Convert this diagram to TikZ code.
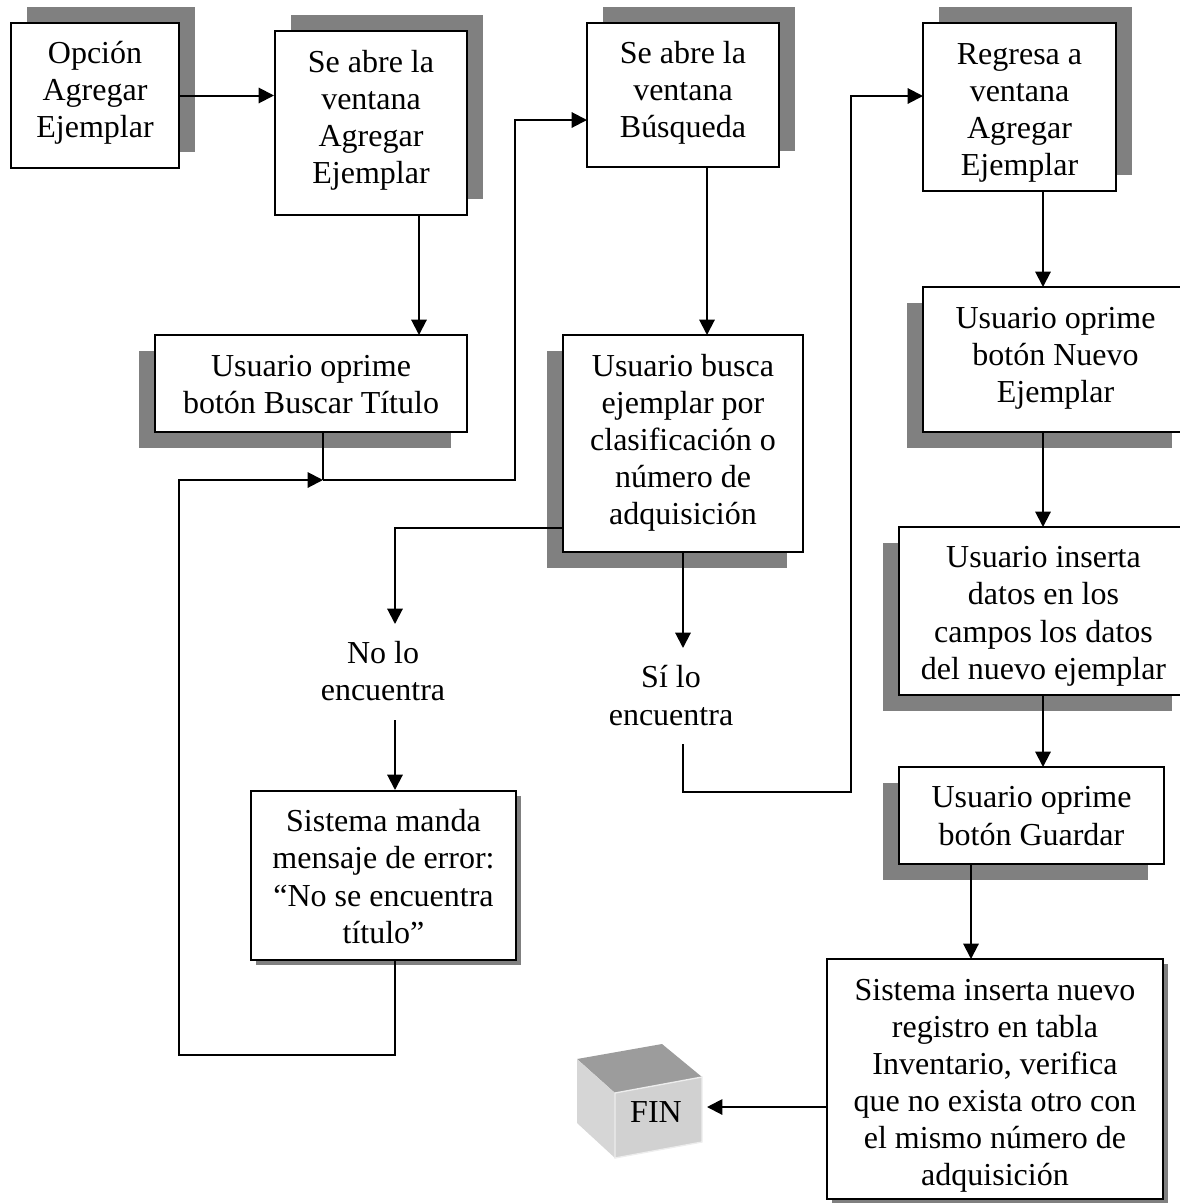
\documentclass[tikz,border=0pt]{standalone}
\usepackage{fontspec}
\setmainfont{Liberation Serif}
\usetikzlibrary{arrows.meta,shadows}
\definecolor{shadowgray}{RGB}{128,128,128}
\def\u{0.75pt}
\newcommand{\padtop}{\rule{0pt}{30pt}}
\newcommand{\padbot}[1]{\rule[\dimexpr#1pt-24.75pt\relax]{0pt}{\dimexpr24.75pt-#1pt\relax}}
\tikzset{
  box/.style={draw,line width=1.5pt,fill=white,align=center,inner sep=0pt,font=\fontsize{24}{27.8}\selectfont},
  shadowup/.style={copy shadow={shadow xshift=12pt,shadow yshift=12pt,draw=none,fill=shadowgray}},
  shadowdown/.style={copy shadow={shadow xshift=-12pt,shadow yshift=-12pt,draw=none,fill=shadowgray}},
  shadowthin/.style={copy shadow={shadow xshift=3.75pt,shadow yshift=-3.75pt,draw=none,fill=shadowgray}},
  lbl/.style={align=center,inner sep=0pt,font=\fontsize{24}{27.8}\selectfont},
  link/.style={line width=1.5pt},
  arrow/.style={line width=1.5pt,-{Triangle[length=11.5pt,width=11.5pt]}},
}
\begin{document}
\begin{tikzpicture}[x=0.75pt,y=-0.75pt]
\useasboundingbox (0,0) rectangle (1180,1203);
\node[box,shadowup,minimum width=168*\u,minimum height=145*\u] (opcion) at (95,95.5) {\padtop Opción\\Agregar\\Ejemplar\padbot{2.25}};
\node[box,shadowup,minimum width=192*\u,minimum height=184*\u] (abre1) at (371,123) {\padtop Se abre la\\ventana\\Agregar\\Ejemplar\padbot{2.25}};
\node[box,shadowup,minimum width=192*\u,minimum height=144*\u] (abre2) at (683,95) {\padtop Se abre la\\ventana\\Búsqueda\padbot{3}};
\node[box,shadowup,minimum width=193*\u,minimum height=168*\u] (regresa) at (1019.5,107) {\padtop Regresa a\\ventana\\Agregar\\Ejemplar\padbot{14.25}};
\node[box,shadowdown,minimum width=312*\u,minimum height=97*\u] (buscar) at (311,383.5) {\padtop Usuario oprime\\botón Buscar Título\padbot{12}};
\node[box,shadowdown,minimum width=240*\u,minimum height=217*\u] (busca) at (683,443.5) {\padtop Usuario busca\\ejemplar por\\clasificación o\\número de\\adquisición\padbot{5.25}};
\node[box,shadowdown,minimum width=265*\u,minimum height=145*\u] (nuevo) at (1055.5,359.5) {\padtop Usuario oprime\\botón Nuevo\\Ejemplar\padbot{3.75}};
\node[box,shadowdown,minimum width=289*\u,minimum height=168*\u] (inserta) at (1043.5,611) {\padtop Usuario inserta\\datos en los\\campos los datos\\del nuevo ejemplar\padbot{13.5}};
\node[box,shadowdown,minimum width=265*\u,minimum height=97*\u] (guardar) at (1031.5,815.5) {\padtop Usuario oprime\\botón Guardar\padbot{11.25}};
\node[box,shadowthin,minimum width=265*\u,minimum height=169*\u] (manda) at (383.5,875.5) {\padtop Sistema manda\\mensaje de error:\\“No se encuentra\\título”\padbot{12.75}};
\node[box,shadowthin,minimum width=336*\u,minimum height=240*\u] (sistema) at (995,1079) {\padtop Sistema inserta nuevo\\registro en tabla\\Inventario, verifica\\que no exista otro con\\el mismo número de\\adquisición\padbot{15.75}};
\node[lbl] (nolo) at (383,671.5) {No lo\\encuentra};
\node[lbl] (silo) at (671,695.5) {Sí lo\\encuentra};

% cubo final
\fill[black!39] (577,1059) -- (662,1044) -- (702,1077) -- (615,1093) -- cycle;
\fill[black!16] (577,1059) -- (615,1093) -- (615,1158) -- (577,1123) -- cycle;
\draw[line width=1pt,fill=black!18,draw=black!7] (615,1093) -- (702,1077) -- (702,1142) -- (615,1158) -- cycle;
\node[lbl] (fin) at (656,1112) {FIN};

\coordinate (cruce) at (323,480);
\coordinate (entrada) at (587,120);
\coordinate (vuelta) at (179,1055);
\coordinate (subida) at (515,480);
\coordinate (nolobajo) at (395,624);
\coordinate (nolosale) at (395,720);
\coordinate (silobajo) at (683,648);
\coordinate (silosale) at (683,744);
\coordinate (rodeo) at (851,792);
\coordinate (entradareg) at (923,96);
\coordinate (finentra) at (707,1107);
\coordinate (salebusca) at (563,528);
\coordinate (salemanda) at (395,960);

\draw[arrow] (opcion.east) -- (opcion.east -| abre1.west);
\draw[arrow] (419,215) -- (419,335);
\draw[link] (buscar.south -| cruce) -- (cruce);
\draw[arrow] (cruce) -- (subida) -- (entrada -| subida) -- (entrada);
\draw[arrow] (salemanda) -- (vuelta -| salemanda) -- (vuelta) -- (vuelta |- cruce) -- (cruce);
\draw[arrow] (707,167) -- (707,335);
\draw[arrow] (salebusca) -- (salebusca -| nolobajo) -- (nolobajo);
\draw[arrow] (nolosale) -- (nolosale |- manda.north);
\draw[arrow] (683,552) -- (silobajo);
\draw[arrow] (silosale) -- (silosale |- rodeo) -- (rodeo) -- (rodeo |- entradareg) -- (entradareg);
\draw[arrow] (1043,191) -- (1043,287);
\draw[arrow] (1043,432) -- (1043,527);
\draw[arrow] (1043,695) -- (1043,767);
\draw[arrow] (971,864) -- (971,959);
\draw[arrow] (finentra -| sistema.west) -- (finentra);
\end{tikzpicture}
\end{document}
